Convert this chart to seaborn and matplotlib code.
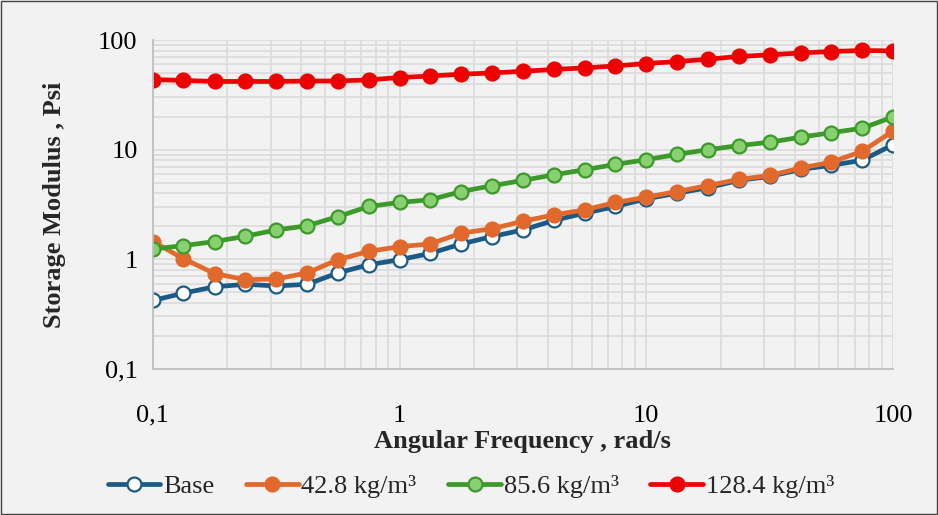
import numpy as np
import pandas as pd
import matplotlib
matplotlib.use('Agg')
import matplotlib.pyplot as plt
import seaborn as sns
from matplotlib.ticker import FuncFormatter, LogLocator, NullFormatter

# Angular frequency points (rad/s), 8 per decade
freq = [0.1, 0.133, 0.178, 0.237, 0.316, 0.422, 0.562, 0.75,
        1.0, 1.33, 1.78, 2.37, 3.16, 4.22, 5.62, 7.5,
        10.0, 13.3, 17.8, 23.7, 31.6, 42.2, 56.2, 75.0, 100.0]

# Storage modulus (Psi)
base = [0.42, 0.49, 0.56, 0.59, 0.57, 0.59, 0.75, 0.89,
        0.99, 1.13, 1.38, 1.61, 1.85, 2.26, 2.63, 3.03,
        3.56, 4.0, 4.5, 5.24, 5.7, 6.6, 7.2, 8.0, 11.1]
fiber_42 = [1.45, 1.01, 0.74, 0.65, 0.66, 0.75, 0.99, 1.18,
            1.30, 1.38, 1.73, 1.90, 2.22, 2.54, 2.82, 3.30,
            3.68, 4.15, 4.71, 5.35, 5.82, 6.79, 7.70, 9.65, 14.8]
fiber_85 = [1.24, 1.33, 1.45, 1.62, 1.85, 2.02, 2.45, 3.03,
            3.30, 3.49, 4.15, 4.69, 5.24, 5.90, 6.56, 7.34,
            8.1, 9.06, 10.0, 10.9, 11.7, 13.0, 14.3, 15.7, 19.9]
fiber_128 = [43.7, 42.9, 42.0, 42.0, 42.0, 42.4, 42.4, 43.4,
             45.6, 47.1, 48.9, 50.2, 52.0, 54.0, 55.8, 58.2,
             61.2, 63.8, 67.0, 71.0, 73.4, 76.5, 78.8, 80.5, 79.8]

labels = ['Base', '42.8 kg/m³', '85.6 kg/m³', '128.4 kg/m³']
series = [base, fiber_42, fiber_85, fiber_128]

# line colour, marker face, marker edge
styles = [('#1b5a85', 'white', '#1b5a85'),
          ('#e2692c', '#e2692c', '#e2692c'),
          ('#3b9a2a', '#88d070', '#3b9a2a'),
          ('#ee0000', '#ee0000', '#ee0000')]

df = pd.DataFrame({
    'Frequency': freq * len(labels),
    'Modulus': [v for s in series for v in s],
    'Mix': [lab for lab in labels for _ in freq],
})

sns.set_style('white')
plt.rcParams['font.family'] = ['Liberation Serif', 'DejaVu Serif']

fig = plt.figure(figsize=(9.38, 5.15), dpi=100, facecolor='#f2f2f2')
ax = fig.add_axes([0.163, 0.284, 0.789, 0.638])
ax.set_facecolor('#f2f2f2')

for lab, (lc, fc, ec) in zip(labels, styles):
    sub = df[df['Mix'] == lab]
    sns.lineplot(data=sub, x='Frequency', y='Modulus', ax=ax, color=lc,
                 marker='o', markersize=10, markerfacecolor=fc,
                 markeredgecolor=ec, markeredgewidth=1.6, linewidth=3.4,
                 label=lab, sort=False)

ax.set_xscale('log')
ax.set_yscale('log')
ax.set_xlim(0.1, 100)
ax.set_ylim(0.1, 100)

fmt = FuncFormatter(lambda v, p: ('%g' % v).replace('.', ','))
for axis in (ax.xaxis, ax.yaxis):
    axis.set_major_locator(LogLocator(base=10, numticks=10))
    axis.set_minor_locator(LogLocator(base=10, subs=np.arange(2, 10), numticks=20))
    axis.set_major_formatter(fmt)
    axis.set_minor_formatter(NullFormatter())

ax.grid(which='both', color='#dcdcdc', linewidth=1.3)
ax.set_axisbelow(True)
ax.tick_params(which='both', length=0, labelsize=19, colors='black')
ax.tick_params(axis='x', pad=26)
ax.tick_params(axis='y', pad=11)
for side in ['top', 'right']:
    ax.spines[side].set_visible(False)
for side in ['left', 'bottom']:
    ax.spines[side].set_color('#bfbfbf')
    ax.spines[side].set_linewidth(1.3)

ax.set_xlabel('Angular Frequency , rad/s', fontsize=19, fontweight='bold', labelpad=2)
ax.set_ylabel('Storage Modulus , Psi', fontsize=19, fontweight='bold', labelpad=23)

handles, leg_labels = ax.get_legend_handles_labels()
ax.get_legend().remove()
fig.legend(handles, leg_labels, loc='center', bbox_to_anchor=(0.502, 0.056), ncol=4,
           frameon=False, fontsize=19, handlelength=2.0, handletextpad=0.1,
           columnspacing=1.2)

# thin border around the whole figure
fig.patches.append(plt.Rectangle((0.001, 0.001), 0.998, 0.997, transform=fig.transFigure,
                                 fill=False, edgecolor='#444444', linewidth=1.0))

fig.savefig('out.png', dpi=100, facecolor=fig.get_facecolor())
